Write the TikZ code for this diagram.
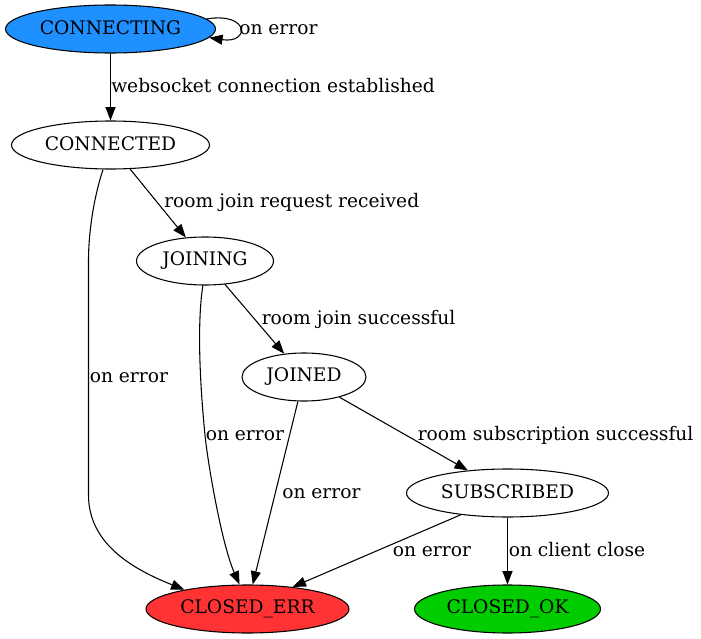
\documentclass[tikz,border=0pt]{standalone}
\usepackage{fontspec}
\setmainfont{DejaVu Serif}
\usetikzlibrary{shapes.geometric,arrows.meta}
\definecolor{cblue}{HTML}{1E90FF}
\definecolor{cred}{HTML}{FF3333}
\definecolor{cgreen}{HTML}{00CC00}
\newcommand\zw[1]{\raisebox{1.5pt}{\makebox[0pt]{#1}}}
\begin{document}
\begin{tikzpicture}[x=0.75pt,y=-0.75pt,
  state/.style={ellipse,draw,line width=0.8pt,inner sep=0pt,minimum height=36pt,font=\fontsize{14}{16}\selectfont},
  lbl/.style={inner sep=0pt,anchor=base west,font=\fontsize{14}{16}\selectfont},
  conn/.style={draw,line width=0.8pt,-{Triangle[length=10pt,width=7.5pt]}}]
\useasboundingbox (0,0) rectangle (701,639);
\node[state,fill=cblue,minimum width=157.5pt] (CONNECTING) at (110.5,29) {\zw{CONNECTING}};
\node[state,minimum width=148.5pt] (CONNECTED) at (110.5,145) {\zw{CONNECTED}};
\node[state,minimum width=102.75pt] (JOINING) at (205,261) {\zw{JOINING}};
\node[state,minimum width=93pt] (JOINED) at (304,377) {\zw{JOINED}};
\node[state,minimum width=151.5pt] (SUBSCRIBED) at (507.5,493) {\zw{SUBSCRIBED}};
\node[state,fill=cred,minimum width=152.25pt] (CLOSEDERR) at (247.5,609) {\zw{CLOSED\_ERR}};
\node[state,fill=cgreen,minimum width=139.5pt] (CLOSEDOK) at (507.5,609) {\zw{CLOSED\_OK}};
% edges
\path[conn] (CONNECTING.6) .. controls (250,12) and (250,44) .. (CONNECTING.-5);
\path[conn] (CONNECTING) -- (CONNECTED);
\path[conn] (CONNECTED) -- (JOINING);
\path[conn] (JOINING) -- (JOINED);
\path[conn] (JOINED) -- (SUBSCRIBED);
\path[conn] (SUBSCRIBED) -- (CLOSEDOK);
\path[conn] (SUBSCRIBED.205) -- (CLOSEDERR.26);
\path[conn] (JOINED.256) -- (CLOSEDERR.78);
\path[conn] (JOINING.265) .. controls (196,330) and (201.5,400) .. (205,435) .. controls (208,465) and (222,545) .. (CLOSEDERR.108);
\path[conn] (CONNECTED.253) .. controls (93,200) and (88.5,235) .. (88.5,260) -- (88.5,495) .. controls (88.5,545) and (135,570) .. (CLOSEDERR.163);
% labels
\node[lbl] (l1) at (239,34) {on error};
\node[lbl] (l2) at (111,92) {websocket connection established};
\node[lbl] (l3) at (164,207.5) {room join request received};
\node[lbl] (l4) at (261.5,324) {room join successful};
\node[lbl] (l5) at (89.5,382) {on error};
\node[lbl] (l6) at (417.5,440) {room subscription successful};
\node[lbl] (l7) at (205.5,440) {on error};
\node[lbl] (l8) at (282,498) {on error};
\node[lbl] (l9) at (392.5,556) {on error};
\node[lbl] (l10) at (508.5,556) {on client close};
\end{tikzpicture}
\end{document}
